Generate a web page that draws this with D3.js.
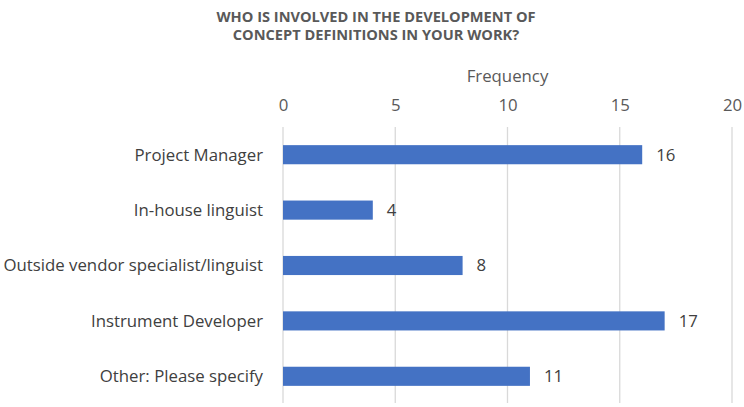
<!DOCTYPE html>
<html>
<head>
<meta charset="utf-8">
<script src="https://cdn.jsdelivr.net/npm/d3@7"></script>
<style>
  body { margin: 0; background: #fff; }
  text { font-family: "Open Sans", "Liberation Sans", sans-serif; }
</style>
</head>
<body>
<div id="chart"></div>
<script>
const WIDTH = 744, HEIGHT = 407;
const categories = ["Project Manager", "In-house linguist", "Outside vendor specialist/linguist", "Instrument Developer", "Other: Please specify"];
const counts = [16, 4, 8, 17, 11];
const ticks = [0, 5, 10, 15, 20];
const titleLines = ["WHO IS INVOLVED IN THE DEVELOPMENT OF", "CONCEPT DEFINITIONS IN YOUR WORK?"];

const FS = 16.8;
const svg = d3.select("#chart")
    .append("svg")
    .attr("width", WIDTH)
    .attr("height", HEIGHT)

const x = d3.scaleLinear().domain([0, 20]).range([283, 732]);
const y = d3.scaleBand().domain(categories).range([127, 404]).paddingInner(0.655).paddingOuter(0.3275);

// gridlines
svg.selectAll("line.grid").data(ticks).enter().append("line")
    .attr("class", "grid")
    .attr("x1", d => x(d)).attr("x2", d => x(d))
    .attr("y1", 127).attr("y2", 403)
    .attr("stroke", "#d9d9d9").attr("stroke-width", 1.3)

// top axis tick labels
const axis = svg.append("g")
    .attr("transform", "translate(0,111)")
    .call(d3.axisTop(x).tickValues(ticks).tickSize(0).tickPadding(0))
axis.select(".domain").remove()
axis.selectAll("text")
    .attr("font-size", FS).attr("fill", "#595959")
    .style("font-family", "'Open Sans', sans-serif")

svg.append("text")
    .attr("x", x(10)).attr("y", 82)
    .attr("text-anchor", "middle")
    .attr("font-size", FS).attr("fill", "#595959")
    .text("Frequency")

// title
svg.selectAll("text.title").data(titleLines).enter().append("text")
    .attr("class", "title")
    .attr("x", 376).attr("y", (d, i) => 22 + i * 18)
    .attr("text-anchor", "middle")
    .attr("font-size", 14.6).attr("font-weight", "bold").attr("fill", "#595959")
    .text(d => d)

// bars
svg.selectAll("rect.bar").data(counts).enter().append("rect")
    .attr("class", "bar")
    .attr("x", x(0))
    .attr("y", (d, i) => y(categories[i]))
    .attr("width", d => x(d) - x(0))
    .attr("height", y.bandwidth())
    .attr("fill", "#4472c4")

// value labels
svg.selectAll("text.val").data(counts).enter().append("text")
    .attr("class", "val")
    .attr("x", d => x(d) + 14)
    .attr("y", (d, i) => y(categories[i]) + y.bandwidth() / 2)
    .attr("dy", "0.35em")
    .attr("font-size", FS).attr("fill", "#404040")
    .text(d => d)

// category labels
svg.selectAll("text.cat").data(categories).enter().append("text")
    .attr("class", "cat")
    .attr("x", 263)
    .attr("y", d => y(d) + y.bandwidth() / 2)
    .attr("dy", "0.35em")
    .attr("text-anchor", "end")
    .attr("font-size", FS).attr("fill", "#404040")
    .text(d => d)
</script>
</body>
</html>
